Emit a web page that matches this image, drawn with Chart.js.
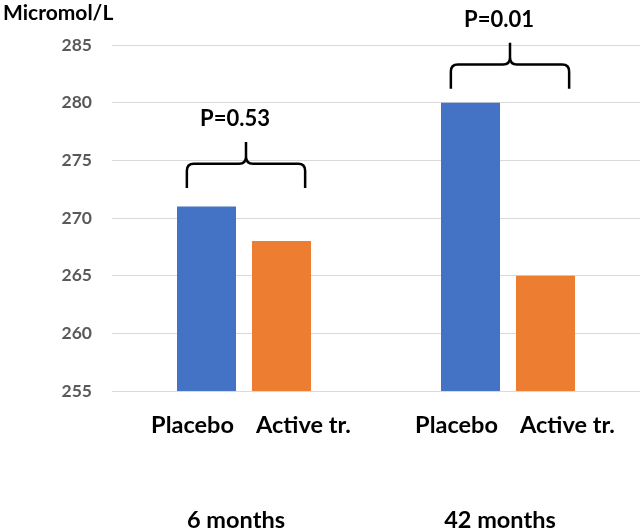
<!DOCTYPE html>
<html>
<head>
<meta charset="utf-8">
<script src="https://cdn.jsdelivr.net/npm/chart.js@4/dist/chart.umd.min.js"></script>
<style>
  html, body { margin: 0; padding: 0; background: #fff; }
  #wrap { width: 640px; height: 530px; position: relative; }
</style>
</head>
<body>
<div id="wrap"><canvas id="chart"></canvas></div>
<script>
// data
const groups = ['6 months', '42 months'];
const seriesNames = ['Placebo', 'Active tr.'];
const placebo = [271, 280];
const active = [268, 265];
const yTicks = [255, 260, 265, 270, 275, 280, 285];
const pLabels = ['P=0.53', 'P=0.01'];
const braceBase = [272.6, 281.2];   // value where the brace legs end

const font = "Lato, 'Open Sans', sans-serif";
const labelShift = [-14, 22];   // series label offset from bar centre (px)

// --- braces, p-values and text labels ---
const annotations = {
    id: 'annotations',
    afterDraw(chart) {
        const ctx = chart.ctx;
        const area = chart.chartArea;
        const xs = chart.scales.x;
        const ys = chart.scales.y;
        const catW = area.width / groups.length;

        ctx.save();
        ctx.fillStyle = '#000';
        ctx.textBaseline = 'alphabetic';

        // unit label
        ctx.font = 'bold 21px ' + font;
        ctx.textAlign = 'left';
        ctx.fillText('Micromol/L', 3, 20);

        // series labels under each bar
        ctx.font = 'bold 23.5px ' + font;
        ctx.textAlign = 'center';
        chart.data.datasets.forEach((ds, di) => {
            chart.getDatasetMeta(di).data.forEach(bar => {
                ctx.fillText(seriesNames[di], bar.x + labelShift[di], area.bottom + 42);
            });
        });

        // group labels
        groups.forEach((g, i) => {
            ctx.fillText(g, xs.getPixelForValue(i) - 8, area.bottom + 137);
        });

        // braces
        ctx.strokeStyle = '#000';
        ctx.lineWidth = 2.5;
        ctx.lineJoin = 'round';
        groups.forEach((g, i) => {
            const xc = xs.getPixelForValue(i) + 2;
            const half = catW * 0.224;
            const x0 = xc - half, x1 = xc + half;
            const yEnd = ys.getPixelForValue(braceBase[i]);
            const yH = ys.getPixelForValue(braceBase[i] + 2.1);
            const yTip = ys.getPixelForValue(braceBase[i] + 4);
            const r = 7;
            ctx.beginPath();
            ctx.moveTo(x0, yEnd);
            ctx.lineTo(x0, yH + r);
            ctx.quadraticCurveTo(x0, yH, x0 + r, yH);
            ctx.lineTo(xc - r, yH);
            ctx.quadraticCurveTo(xc, yH, xc, yH - r);
            ctx.lineTo(xc, yTip);
            ctx.moveTo(xc, yH - r);
            ctx.quadraticCurveTo(xc, yH, xc + r, yH);
            ctx.lineTo(x1 - r, yH);
            ctx.quadraticCurveTo(x1, yH, x1, yH + r);
            ctx.lineTo(x1, yEnd);
            ctx.stroke();

            ctx.font = 'bold 22px ' + font;
            ctx.fillText(pLabels[i], xc - 11, ys.getPixelForValue(braceBase[i] + 5.35));
        });
        ctx.restore();
    }
};

const ctx = document.getElementById('chart').getContext('2d');
const chart = new Chart(ctx, {
    type: 'bar',
    data: {
        labels: groups,
        datasets: [{
            label: seriesNames[0],
            data: placebo,
            backgroundColor: '#4472C4'
        }, {
            label: seriesNames[1],
            data: active,
            backgroundColor: '#ED7D31'
        }]
    },
    options: {
        responsive: true,
        maintainAspectRatio: false,
        animation: false,
        categoryPercentage: 0.568,
        barPercentage: 0.787,
        layout: {
            padding: { top: 45, bottom: 139, left: 0, right: 0 }
        },
        scales: {
            x: {
                display: false
            },
            y: {
                min: yTicks[0],
                max: yTicks[yTicks.length - 1],
                afterBuildTicks: axis => { axis.ticks = yTicks.map(v => ({ value: v })); },
                afterFit: axis => { axis.width = 112; },
                border: { display: false },
                grid: {
                    color: '#d9d9d9',
                    lineWidth: 1,
                    drawTicks: false
                },
                ticks: {
                    padding: 20,
                    color: '#595959',
                    font: { family: font, size: 17.5, weight: 'bold' }
                }
            }
        },
        plugins: {
            legend: { display: false },
            tooltip: { enabled: false }
        }
    },
    plugins: [annotations]
});
</script>
</body>
</html>
